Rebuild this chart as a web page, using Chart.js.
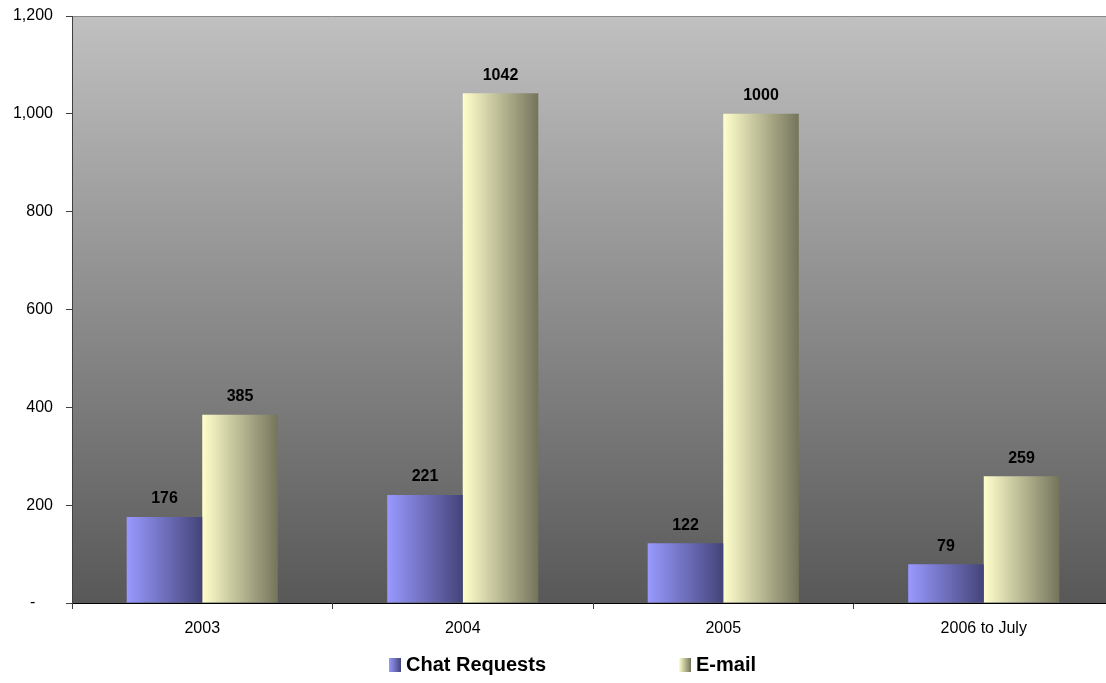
<!DOCTYPE html>
<html>
<head>
<meta charset="utf-8">
<script src="https://cdn.jsdelivr.net/npm/chart.js@4/dist/chart.umd.min.js"></script>
<style>
  html, body { margin: 0; padding: 0; background: #fff; overflow: hidden; }
  /* plot runs a little past the right edge of the window */
  #wrap { width: 1114px; height: 683px; }
</style>
</head>
<body>
<div id="wrap"><canvas id="chart"></canvas></div>
<script>
// --- data ---
const categories = ['2003', '2004', '2005', '2006 to July'];
const chatRequests = [176, 221, 122, 79];
const emails = [385, 1042, 1000, 259];
const seriesNames = ['Chat Requests', 'E-mail'];

// horizontal shading of each series (left -> right)
const shades = [
  ['#9999ff', '#44447a'],
  ['#ffffcc', '#74745c']
];

const FONT = "Arial, 'Liberation Sans', sans-serif";
const CAT_PCT = 0.58;

function horizGradient(ctx, x0, x1, pair) {
  const g = ctx.createLinearGradient(x0, 0, x1, 0);
  g.addColorStop(0, pair[0]);
  g.addColorStop(1, pair[1]);
  return g;
}

// per-bar fill: gradient across the bar's own width
function barFill(context) {
  const chart = context.chart;
  const xs = chart.scales.x;
  const pair = shades[context.datasetIndex];
  if (!xs || !chart.chartArea) return pair[0];
  const center = xs.getPixelForValue(context.dataIndex);
  const w = xs.width / categories.length * CAT_PCT / 2;
  const x0 = context.datasetIndex === 0 ? center - w : center;
  return horizGradient(chart.ctx, x0, x0 + w, pair);
}

// plot background: light grey at top, dark grey at the bottom
const plotBackground = {
  id: 'plotBackground',
  beforeDraw(chart) {
    const { ctx, chartArea: a } = chart;
    const g = ctx.createLinearGradient(0, a.top, 0, a.bottom);
    g.addColorStop(0, '#c0c0c0');
    g.addColorStop(1, '#585858');
    ctx.save();
    ctx.fillStyle = g;
    ctx.fillRect(a.left, a.top, a.right - a.left, a.bottom - a.top);
    ctx.strokeStyle = '#8a8a8a';
    ctx.beginPath();
    ctx.moveTo(a.left, a.top + 0.5);
    ctx.lineTo(a.right, a.top + 0.5);
    ctx.stroke();
    ctx.restore();
  }
};

// value labels above the bars
const valueLabels = {
  id: 'valueLabels',
  afterDatasetsDraw(chart) {
    const ctx = chart.ctx;
    ctx.save();
    ctx.font = 'bold 16px ' + FONT;
    ctx.fillStyle = '#000';
    ctx.textAlign = 'center';
    ctx.textBaseline = 'middle';
    chart.data.datasets.forEach((ds, i) => {
      chart.getDatasetMeta(i).data.forEach((bar, j) => {
        ctx.fillText(String(ds.data[j]), bar.x, bar.y - 18);
      });
    });
    ctx.restore();
  }
};

// legend row under the axis
const bottomLegend = {
  id: 'bottomLegend',
  afterDraw(chart) {
    const ctx = chart.ctx;
    const itemX = [389, 679];
    const cy = 665;
    ctx.save();
    ctx.font = 'bold 20px ' + FONT;
    ctx.textBaseline = 'middle';
    seriesNames.forEach((name, i) => {
      const x = itemX[i];
      ctx.fillStyle = horizGradient(ctx, x, x + 12, shades[i]);
      ctx.fillRect(x, cy - 7, 12, 14);
      ctx.fillStyle = '#000';
      ctx.fillText(name, x + 17, cy);
    });
    ctx.restore();
  }
};

new Chart(document.getElementById('chart'), {
  type: 'bar',
  data: {
    labels: categories,
    datasets: [
      { label: seriesNames[0], data: chatRequests, backgroundColor: barFill },
      { label: seriesNames[1], data: emails, backgroundColor: barFill }
    ]
  },
  options: {
    responsive: true,
    maintainAspectRatio: false,
    animation: false,
    layout: { padding: { top: 16, right: 0, left: 0, bottom: 0 } },
    datasets: {
      bar: { barPercentage: 1, categoryPercentage: CAT_PCT, borderWidth: 0 }
    },
    plugins: {
      legend: { display: false },
      tooltip: { enabled: false }
    },
    scales: {
      x: {
        offset: true,
        grid: { offset: true, drawOnChartArea: false, tickLength: 6, color: '#404040' },
        border: { color: '#000', width: 1 },
        ticks: { color: '#000', font: { family: FONT, size: 16 }, padding: 10 },
        afterFit(scale) {
          scale.height = 80;
          scale.paddingLeft = 0;
          scale.paddingRight = 0;
        }
      },
      y: {
        min: 0,
        max: 1200,
        grid: { drawOnChartArea: false, tickLength: 6, color: '#404040' },
        border: { color: '#404040', width: 1 },
        ticks: {
          stepSize: 200,
          color: '#000',
          font: { family: FONT, size: 16 },
          padding: 13,
          callback: v => v === 0 ? '-    ' : v.toLocaleString('en-US')
        },
        afterFit(scale) {
          scale.width = 72;
          scale.paddingTop = 0;
          scale.paddingBottom = 0;
        }
      }
    }
  },
  plugins: [plotBackground, valueLabels, bottomLegend]
});
</script>
</body>
</html>
